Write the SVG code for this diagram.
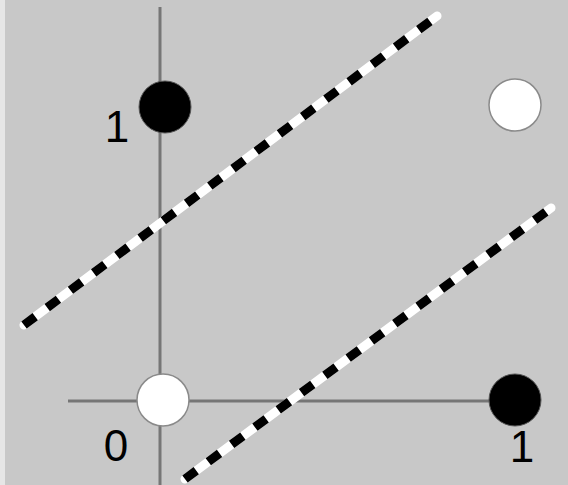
<svg xmlns="http://www.w3.org/2000/svg" width="568" height="485" viewBox="0 0 568 485">
<style>
.axis{stroke:#767676;stroke-width:3;fill:none}
.base{stroke:#ffffff;stroke-width:9;stroke-linecap:round}
.dash{stroke:#000000;stroke-width:9;stroke-dasharray:14 15}
.on{fill:#000000;stroke:#555;stroke-width:1}
.off{fill:#ffffff;stroke:#8a8a8a;stroke-width:1.5}
.lbl{font-family:"Liberation Sans",Arial,sans-serif;font-size:44px;fill:#000;text-anchor:middle}
</style>
<rect x="0" y="0" width="568" height="485" fill="#c8c8c8"/>
<rect x="0" y="0" width="5" height="485" fill="#e6e6e6"/>
<g id="axes">
<line class="axis" x1="160" y1="7" x2="160" y2="485"/>
<line class="axis" x1="68" y1="401" x2="500" y2="401"/>
</g>
<g id="connectors">
<line class="base" x1="24" y1="325" x2="437" y2="16"/>
<line class="dash" x1="24" y1="325" x2="437" y2="16"/>
<line class="base" x1="185" y1="479" x2="551" y2="208"/>
<line class="dash" x1="185" y1="479" x2="551" y2="208"/>
</g>
<g id="p01"><circle class="on" cx="165" cy="107" r="26"/></g>
<g id="p11"><circle class="off" cx="515" cy="105" r="26"/></g>
<g id="p00"><circle class="off" cx="163" cy="400" r="26"/></g>
<g id="p10"><circle class="on" cx="515" cy="400" r="26"/></g>
<g id="labels">
<text class="lbl" x="117" y="142">1</text>
<text class="lbl" x="116" y="461">0</text>
<text class="lbl" x="522" y="462">1</text>
</g>
</svg>
